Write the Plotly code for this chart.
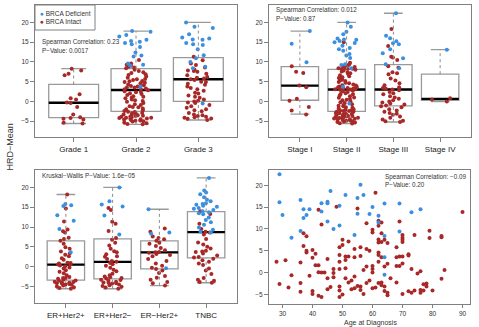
import plotly.graph_objects as go

W, H = 479, 327
BLUE = "#3a8fe0"
RED = "#a82828"
BOXLINE = "#9a9a9a"
FRAME = "#808080"
TXT = "#333333"
FONT = "Liberation Sans, Arial, sans-serif"

# ---------------- Panel 1: Grade ----------------
grade_cats = ["Grade 1", "Grade 2", "Grade 3"]
grade_q1 = [-4.1, -2.5, 0.0]
grade_med = [-0.35, 2.9, 5.6]
grade_q3 = [4.3, 8.3, 11.1]
grade_lo = [-5.6, -5.8, -4.7]
grade_hi = [8.3, 17.8, 20.0]
grade1_blue = []
grade1_red = [8.3, 7.8, 7.0, 6.6, 1.8, 0.8, 0.5, -0.3, -0.4, -1.4, -3.3, -4.0, -4.2, -4.4, -4.6, -5.4, -5.6]
grade2_blue = [17.8, 17.6, 16.8, 16.4, 15.6, 15.3, 15.1, 14.8, 14.5, 13.8, 12.4, 11.6, 11.4, 9.6, 9.3, 9.1, 3.7]
grade2_red = [10.5, 9.6, 9.3, 9.1, 9.0, 8.8, 8.6, 8.4,
              8.0, 7.7, 7.4, 7.2, 6.9, 6.7, 6.3, 6.0, 5.7, 5.6, 5.4, 5.2, 5.1, 4.9, 4.7, 4.6,
              4.3, 4.1, 3.9, 3.8, 3.5, 3.5, 3.3, 3.1, 3.0,
              2.8, 2.6, 2.4, 2.3, 2.0, 1.9, 1.6, 1.3, 1.2, 0.9, 0.8, 0.5, 0.3, 0.1, -0.1,
              -0.4, -0.7, -0.9, -1.2, -1.4, -1.5, -1.8, -2.0, -2.2, -2.4,
              -2.6, -2.7, -2.9, -3.0, -3.1, -3.3, -3.4, -3.5, -3.6, -3.7, -3.8, -3.9, -4.0,
              -4.1, -4.1, -4.2, -4.3, -4.4, -4.5, -4.6, -4.7, -4.8, -4.9, -5.0, -5.1, -5.3,
              -5.5, -5.7, -5.8]
grade3_blue = [20.0, 18.9, 18.6, 17.0, 16.2, 15.9, 15.7, 15.6, 14.8, 14.5, 14.3, 13.2, 11.7, 10.9, 10.0, 8.8, 8.4, -0.5]
grade3_red = [11.3, 10.4, 9.6, 9.2, 8.6, 8.1, 7.8, 7.7, 7.5, 7.0, 6.6, 6.2, 6.0, 5.8, 5.6, 5.4, 5.0,
              4.9, 4.5, 4.2, 3.8, 3.4, 3.1, 2.7, 2.2, 2.0, 1.5, 1.2, 0.9, 0.5, 0.2, 0.0, -0.3,
              -0.4, -0.9, -1.2, -1.6, -2.0, -2.2, -2.5, -2.9, -3.3, -3.5, -3.7, -3.9, -4.0,
              -4.1, -4.3, -4.4, -4.7]

# ---------------- Panel 2: Stage ----------------
stage_cats = ["Stage I", "Stage II", "Stage III", "Stage IV"]
stage_q1 = [0.3, -2.5, -1.1, 0.25]
stage_med = [4.0, 3.0, 3.0, 0.65]
stage_q3 = [8.8, 8.1, 9.3, 6.9]
stage_lo = [-3.2, -5.6, -5.2, 0.0]
stage_hi = [17.8, 20.0, 22.3, 13.1]
stage1_blue = [17.8, 14.6, 9.9]
stage1_red = [8.9, 7.5, 7.2, 4.0, 3.6, 0.7, 0.2, -1.4, -2.3, -3.3]
stage2_blue = [20.0, 18.9, 17.6, 17.0, 15.9, 15.7, 15.6, 15.3, 15.0, 14.8, 14.1, 13.5, 13.2,
               12.8, 12.0, 11.6, 11.0, 9.4, 9.2, 8.4, 3.7, -0.5]
stage2_red = [15.0, 9.8, 9.5, 9.2, 9.0, 8.8, 8.7, 8.5, 8.4, 8.3, 8.2, 8.2,
              8.0, 7.8, 7.6, 7.3, 7.1, 6.9, 6.6, 6.4, 6.1, 5.9, 5.8, 5.5, 5.3, 5.2, 4.9, 4.7,
              4.6, 4.3, 4.1, 4.0, 3.8, 3.7, 3.6, 3.5, 3.4, 3.3, 3.3, 3.2, 3.1, 3.1, 3.0,
              2.9, 2.7, 2.6, 2.4, 2.1, 1.9, 1.8, 1.5, 1.3, 1.0, 0.9, 0.6, 0.4, 0.3, 0.0, -0.2,
              -0.4, -0.7, -0.9, -1.1, -1.2, -1.5, -1.6, -1.8, -2.0, -2.1, -2.2, -2.3, -2.4,
              -2.4, -2.5, -2.6, -2.7, -2.9, -3.0, -3.1, -3.2, -3.3, -3.4, -3.5, -3.6, -3.7,
              -3.7, -3.8, -3.9, -4.0, -4.0, -4.1, -4.2, -4.3, -4.4, -4.4, -4.5, -4.6, -4.7,
              -4.8, -4.9, -5.0, -5.1, -5.2, -5.3, -5.5, -5.6]
stage3_blue = [22.3, 16.6, 16.0, 15.2, 14.7, 14.5, 13.2, 12.2, 10.9, 9.4, 8.4]
stage3_red = [18.3, 14.0, 11.3, 11.1, 10.5, 8.9, 8.5, 7.4, 7.1, 6.9, 5.8, 5.3, 4.6, 4.1, 3.6,
              3.4, 3.2, 3.0, 2.8, 2.4, 2.1, 1.8, 1.3, 1.0, 0.7, 0.3, 0.0, -0.3, -0.5, -0.8,
              -1.0, -1.2, -1.5, -2.0, -2.3, -2.6, -2.9, -3.1, -3.4, -3.8, -4.1, -4.6, -4.9,
              -5.0, -5.2]
stage4_blue = [13.1]
stage4_red = [0.8, 0.5, 0.0]

# ---------------- Panel 3: Subtype ----------------
sub_cats = ["ER+Her2+", "ER+Her2\u2212", "ER\u2212Her2+", "TNBC"]
sub_q1 = [-3.4, -3.1, -0.6, 2.2]
sub_med = [0.5, 1.2, 3.6, 8.7]
sub_q3 = [6.5, 7.0, 6.5, 13.9]
sub_lo = [-5.6, -5.6, -4.8, -4.1]
sub_hi = [18.2, 20.0, 14.5, 22.4]
sub1_blue = [15.8, 15.5, 15.3, 13.0, 11.6, 9.5, 3.6]
sub1_red = [18.2, 14.7, 11.4, 9.4, 8.9, 8.6, 7.3, 7.0, 6.5, 5.8, 4.9, 4.5, 3.8, 3.4, 3.0, 2.6,
            2.1, 1.7, 1.0, 0.9, 0.8, 0.6, 0.5, 0.3, 0.1, -0.2, -0.5, -0.9, -1.3, -1.7, -2.2,
            -2.6, -2.9, -2.9, -3.1, -3.3, -3.5, -3.6, -3.8, -3.9, -4.0, -4.1, -4.2, -4.3,
            -4.4, -4.5, -4.6, -4.8, -5.0, -5.2, -5.4, -5.6]
sub2_blue = [20.0, 16.5, 15.7, 15.2, 12.9, 8.1]
sub2_red = [14.8, 14.3, 11.3, 10.8, 9.0, 7.2, 6.8, 6.0, 5.3, 4.5, 3.9, 3.6, 3.1, 2.6, 2.5,
            1.9, 1.4, 1.2, 0.9, 0.6, 0.2, -0.3, -0.8, -1.2, -1.8, -2.2, -2.5, -2.7, -2.9,
            -3.0, -3.3, -3.4, -3.6, -3.8, -4.0, -4.1, -4.2, -4.3, -4.5, -4.7, -4.9, -5.1,
            -5.3, -5.6]
sub3_blue = [14.5, 8.6, 8.3, -0.4]
sub3_red = [9.6, 8.8, 7.6, 7.2, 6.9, 6.5, 6.0, 5.8, 5.2, 4.7, 4.1, 3.7, 3.6, 3.5, 3.2, 2.9,
            2.6, 1.9, 1.4, 0.8, 0.2, -0.3, -0.6, -1.0, -1.6, -2.4, -2.8, -3.3, -3.9, -4.2, -4.8]
sub4_blue = [22.4, 19.2, 18.7, 18.3, 17.5, 16.9, 16.5, 16.0, 15.8, 15.6, 15.4, 15.1, 14.8,
             14.6, 14.3, 14.0, 13.7, 13.5, 13.2, 12.4, 11.8, 11.2, 10.6, 9.9, 9.3, 8.8, 8.6]
sub4_red = [14.0, 13.3, 10.8, 9.5, 8.8, 8.6, 8.1, 7.0, 6.1, 5.6, 5.0, 4.6, 4.0, 3.8, 3.7, 3.3,
            2.8, 2.4, 2.3, 2.0, 1.6, 1.2, 0.8, 0.4, -0.5, -1.0, -1.9, -2.9, -3.3, -3.6,
            -3.9, -4.1]

# ---------------- Panel 4: Age scatter ----------------
age_ticks = [30, 40, 50, 60, 70, 80, 90]
age_blue = [29, 29, 30, 33, 36, 36, 37, 37, 38, 39,
            43, 43, 45, 45, 45, 46, 47, 49, 49, 51,
            54, 55, 55, 56, 57, 59, 60, 62, 62, 64,
            64, 64, 64, 69, 69, 73, 76]
hrd_blue = [22.5, 16.1, 13.2, 8.0, 16.6, 9.5, 14.5, 12.5, 13.2, 14.5,
            15.9, 14.0, 16.2, 15.9, 11.7, 18.7, 10.0, 15.3, 10.8, 17.8,
            8.6, 17.1, 13.5, 20.1, 17.8, 13.4, 15.0, 13.0, 11.5, 15.8,
            8.4, 3.5, -0.5, 15.8, 9.4, 13.8, 14.5]
age_red = [28, 29, 31, 32, 33,
           36, 36, 36, 37, 37,
           38, 38, 38, 39, 40, 40,
           40, 40, 41, 41, 42,
           42, 43, 44, 42, 43, 42, 43,
           45, 45, 45, 46, 47, 47, 47, 48,
           49, 49, 49, 49, 49, 49, 49,
           50, 50, 50, 51, 51, 51, 51,
           52, 52, 52, 53, 53,
           54, 54, 54, 54, 55, 55,
           56, 56, 56, 56, 57, 57,
           58, 58, 58, 58, 59, 59,
           60, 60, 60, 60, 60, 60, 61, 61,
           62, 62, 62, 62, 62, 62, 62, 62,
           63, 63, 63, 63, 63, 63,
           64, 64, 64, 64, 65, 65, 65, 65, 66,
           68, 68, 68, 68, 69, 69, 69,
           70, 70, 70, 70, 70, 70, 70,
           72, 72, 72, 73, 73, 74, 74, 75,
           76, 76, 76, 77, 77, 78, 78,
           79, 79, 80, 83, 83, 83, 84, 90]
hrd_red = [2.5, -2.6, 2.8, -3.4, -0.6,
           2.3, -2.4, -4.4, 9.0, 6.1,
           8.3, 5.0, 4.6, -0.7, -4.9, -4.2,
           5.2, 3.4, 4.3, 1.7, 1.7,
           0.1, 0.0, 0.0, -5.3, -5.6, 14.4, 11.0,
           3.1, -1.3, -3.8, -3.3, 0.8, -0.1, -1.1, 15.1,
           5.8, 4.0, 2.5, 0.8, -3.2, -4.1, -5.6,
           7.5, 6.3, -5.0, 3.7, 2.9, 1.0, -1.3,
           7.1, 3.7, -2.3, -1.8, -3.8,
           5.4, 3.5, -0.9, -3.6, 14.7, -3.1,
           5.8, 3.8, -3.2, -4.0, 0.6, -4.9,
           11.3, 5.4, 1.4, -2.4, 5.0, -1.8,
           9.8, 9.2, 1.5, 0.8, 0.0, -3.6, 18.3, -3.4,
           11.9, 10.7, 7.6, 6.9, 4.6, 4.0, 2.5, -2.4,
           11.5, 9.0, 3.5, -2.3, -2.9, 7.0,
           7.5, 1.4, -3.2, -4.2, 2.0, -4.6, -5.2, 6.8, -1.3,
           5.8, 3.5, 1.5, -2.3, 11.7, 3.7, 1.5,
           8.6, 8.0, 7.5, 7.0, 3.7, 2.1, -4.9,
           4.2, 3.9, -4.3, 0.8, -4.6, 8.6, -4.1, -0.2,
           0.3, -4.0, -4.6, -4.1, -2.7, -2.5, -3.2,
           9.6, 7.9, -4.1, 8.4, 8.1, -1.4, 0.6, 13.9]

y_ticks = [-5, 0, 5, 10, 15, 20]

fig = go.Figure()


def flat_box(xa, ya, pos, level, width, color, lw):
    """A zero-height box drawn as a horizontal segment at `level` (caps / median)."""
    fig.add_trace(go.Box(x=pos, q1=level, median=level, q3=level, lowerfence=level,
                         upperfence=level, xaxis=xa, yaxis=ya, width=width, whiskerwidth=0,
                         fillcolor="rgba(0,0,0,0)", line=dict(color=color, width=lw),
                         boxpoints=False, hoverinfo="skip", showlegend=False))


def add_box_panel(xa, ya, q1, med, q3, lo, hi, blues, reds):
    pos = list(range(1, len(q1) + 1))
    # dotted whiskers
    wx, wy = [], []
    for p, a, b, c, d in zip(pos, lo, q1, q3, hi):
        wx += [p, p, None, p, p, None]
        wy += [a, b, None, c, d, None]
    fig.add_trace(go.Scatter(x=wx, y=wy, mode="lines", xaxis=xa, yaxis=ya,
                             line=dict(color="#8a8a8a", width=1, dash="dot"),
                             hoverinfo="skip", showlegend=False))
    # boxes (no whiskers)
    fig.add_trace(go.Box(x=pos, q1=q1, median=med, q3=q3, lowerfence=q1, upperfence=q3,
                         xaxis=xa, yaxis=ya, width=0.8, whiskerwidth=0,
                         fillcolor="white", line=dict(color=BOXLINE, width=1.3),
                         boxpoints=False, hoverinfo="skip", showlegend=False))
    # whisker caps
    flat_box(xa, ya, pos, lo, 0.4, BOXLINE, 1.4)
    flat_box(xa, ya, pos, hi, 0.4, BOXLINE, 1.4)
    # median
    flat_box(xa, ya, pos, med, 0.8, "black", 2.4)
    for p, b, r in zip(pos, blues, reds):
        for vals, col in ((r, RED), (b, BLUE)):
            if not vals:
                continue
            fig.add_trace(go.Box(x=[p] * len(vals), y=vals, xaxis=xa, yaxis=ya,
                                 boxpoints="all", jitter=1, pointpos=0, width=0.55,
                                 fillcolor="rgba(0,0,0,0)",
                                 line=dict(width=0, color="rgba(0,0,0,0)"),
                                 marker=dict(color=col, size=4, line=dict(width=0)),
                                 hoverinfo="skip", showlegend=False))


add_box_panel("x", "y", grade_q1, grade_med, grade_q3, grade_lo, grade_hi,
              [grade1_blue, grade2_blue, grade3_blue], [grade1_red, grade2_red, grade3_red])
add_box_panel("x2", "y2", stage_q1, stage_med, stage_q3, stage_lo, stage_hi,
              [stage1_blue, stage2_blue, stage3_blue, stage4_blue],
              [stage1_red, stage2_red, stage3_red, stage4_red])
add_box_panel("x3", "y3", sub_q1, sub_med, sub_q3, sub_lo, sub_hi,
              [sub1_blue, sub2_blue, sub3_blue, sub4_blue],
              [sub1_red, sub2_red, sub3_red, sub4_red])

fig.add_trace(go.Scatter(x=age_red, y=hrd_red, mode="markers", xaxis="x4", yaxis="y4",
                         marker=dict(color=RED, size=4), hoverinfo="skip", showlegend=False))
fig.add_trace(go.Scatter(x=age_blue, y=hrd_blue, mode="markers", xaxis="x4", yaxis="y4",
                         marker=dict(color=BLUE, size=4), hoverinfo="skip", showlegend=False))


def dom_x(a, b):
    return [a / W, b / W]


def dom_y(top, bottom):
    return [1 - bottom / H, 1 - top / H]


axis_common = dict(showline=True, mirror=True, linecolor=FRAME, linewidth=1,
                   ticks="outside", ticklen=4, tickcolor=FRAME, tickwidth=1,
                   showgrid=False, zeroline=False, fixedrange=True)
yfont = dict(family=FONT, size=6.5, color=TXT)
catfont = dict(family=FONT, size=8, color="#222222")


def cat_axis(cats, anchor, dom, rng):
    return dict(axis_common, domain=dom, anchor=anchor, range=rng,
                tickvals=list(range(1, len(cats) + 1)), ticktext=cats, tickfont=catfont)


def y_axis(anchor, dom, rng):
    return dict(axis_common, domain=dom, anchor=anchor, range=rng,
                tickvals=y_ticks, tickfont=yfont)


age_axis = dict(axis_common, domain=dom_x(269, 470), anchor="y4", range=[25.5, 92.5],
                tickvals=age_ticks, tickfont=yfont)
age_axis["ticklen"] = 3

fig.update_layout(
    width=W, height=H, autosize=False,
    margin=dict(l=0, r=0, t=0, b=0),
    paper_bgcolor="white", plot_bgcolor="white",
    boxmode="overlay", showlegend=False,
    font=dict(family=FONT, color=TXT),
    xaxis=cat_axis(grade_cats, "y", dom_x(35, 237), [0.38, 3.62]),
    yaxis=y_axis("x", dom_y(5, 137), [-9.0, 24.4]),
    xaxis2=cat_axis(stage_cats, "y2", dom_x(269, 471), [0.34, 4.66]),
    yaxis2=y_axis("x2", dom_y(5, 137), [-9.0, 24.4]),
    xaxis3=cat_axis(sub_cats, "y3", dom_x(35, 237), [0.34, 4.66]),
    yaxis3=y_axis("x3", dom_y(170, 303), [-9.2, 24.4]),
    xaxis4=age_axis,
    yaxis4=y_axis("x4", dom_y(170, 304), [-7.2, 23.5]),
)


def note(text, xpx, ypx, xanchor="left", size=6.3, angle=0, yanchor="middle", pad=1):
    fig.add_annotation(text=text, x=xpx / W, y=1 - ypx / H, xref="paper", yref="paper",
                       xanchor=xanchor, yanchor=yanchor, showarrow=False, textangle=angle,
                       borderpad=pad, font=dict(family=FONT, size=size, color=TXT))


# legend box
fig.add_shape(type="rect", xref="paper", yref="paper", x0=35 / W, x1=95 / W,
              y0=1 - 30 / H, y1=1 - 5 / H, line=dict(color=FRAME, width=1),
              fillcolor="white", layer="above")
note(f'<span style="color:{BLUE}">\u25CF</span> BRCA Deficient', 37.5, 13.3, size=6.5)
note(f'<span style="color:{RED}">\u25CF</span> BRCA Intact', 37.5, 21.5, size=6.5)

note("Spearman Correlation: 0.23", 39.5, 42.3)
note("P\u2212Value: 0.0017", 39.5, 50.5)
note("Spearman Correlation: 0.012", 274.3, 10.3)
note("P\u2212Value: 0.87", 274.3, 18.5)
note("Kruskal\u2212Wallis P\u2212Value: 1.6e\u221205", 40, 175)
note("Spearman Correlation: \u22120.09", 468.5, 176.7, xanchor="right")
note("P\u2212Value: 0.20", 382.7, 184.5)

note("HRD\u2212Mean", 9.5, 147, xanchor="center", size=9, angle=-90)
note("Age at Diagnosis", 370, 327.5, xanchor="center", size=7, yanchor="bottom", pad=0)

fig.write_html("out.html")
